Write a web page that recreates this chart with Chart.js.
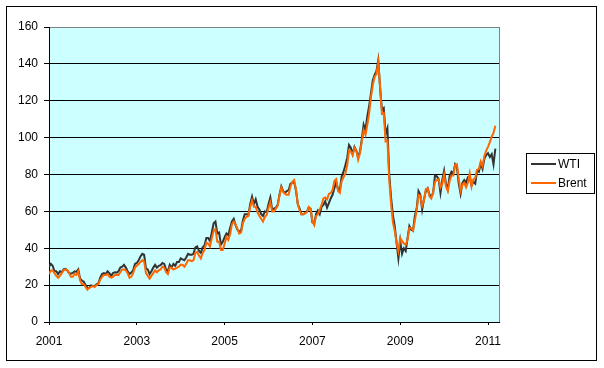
<!DOCTYPE html>
<html>
<head>
<meta charset="utf-8">
<script src="https://cdn.jsdelivr.net/npm/chart.js@4.4.1/dist/chart.umd.min.js"></script>
<style>
  body { margin: 0; background: #fff; }
  canvas { display: block; }
</style>
</head>
<body>
<canvas id="oil" width="604" height="368"></canvas>
<script>
// Oil spot prices, two readings per month (1st and 16th), Jan 2001 - Mar 2011
const wti = [
  30.0,31.5, 30.5,27.5, 27.5,26.0, 27.5,27.0, 28.5,28.8, 28.0,26.5, 26.2,26.6, 27.5,27.2, 28.5,23.5, 22.5,21.8, 20.0,18.5, 18.5,19.8, // 2001
  19.5,19.5, 20.5,21.0, 24.0,26.0, 26.5,26.0, 27.5,26.5, 25.0,26.5, 27.0,26.8, 27.5,29.5, 30.0,31.0, 29.5,27.5, 26.0,26.8, 28.0,31.5, // 2002
  32.0,33.5, 35.5,37.0, 36.5,29.0, 28.5,26.0, 27.5,29.5, 31.0,29.5, 30.5,30.8, 32.0,31.5, 28.5,27.5, 31.0,29.5, 31.5,30.5, 32.5,32.5, // 2003
  34.5,34.0, 33.5,35.0, 37.0,36.5, 36.5,37.0, 40.5,41.0, 38.5,37.5, 40.5,41.5, 45.5,45.5, 44.0,48.5, 53.5,54.5, 48.0,48.5, 42.0,43.5, // 2004
  46.0,48.0, 47.0,51.0, 54.5,56.0, 52.5,50.0, 49.0,49.5, 55.0,58.5, 58.5,58.0, 64.0,68.0, 64.0,66.5, 62.5,61.0, 58.5,57.5, 60.0,59.5, // 2005
  64.0,67.5, 61.0,61.5, 62.0,63.5, 69.0,73.5, 71.0,70.0, 71.0,71.5, 75.0,75.5, 76.0,71.5, 64.0,61.5, 58.5,58.5, 59.0,60.0, 62.0,61.5, // 2006
  54.0,53.5, 58.5,60.5, 58.5,62.5, 63.5,65.5, 62.0,64.5, 67.0,69.0, 72.5,76.0, 72.0,71.5, 79.0,81.5, 85.0,89.0, 96.0,94.5, 91.0,95.0, // 2007
  93.0,89.5, 92.5,99.0, 107.0,104.0, 111.5,117.0, 124.0,131.0, 134.0,136.0, 142.0,127.0, 115.0,116.0, 102.0,105.0, 80.0,67.5, 58.0,52.0, 43.0,34.5, // 2008
  44.0,37.0, 40.0,38.5, 45.5,52.0, 50.0,49.5, 57.5,61.5, 71.0,69.0, 61.0,66.5, 71.0,72.5, 69.0,68.0, 70.0,79.5, 79.0,77.5, 70.0,77.0, // 2009
  82.0,75.0, 72.0,79.0, 81.5,80.5, 85.5,84.0, 75.0,69.5, 75.5,77.0, 75.5,78.5, 78.5,74.0, 76.0,75.0, 82.0,81.5, 86.0,83.0, 88.5,90.5, // 2010
  91.5,89.5, 91.0,85.5, 94.0 // 2011
];
const brent = [
  26.0,28.0, 28.0,26.5, 25.0,24.0, 25.0,26.5, 28.0,28.5, 28.0,26.5, 24.5,24.5, 26.0,25.5, 27.5,22.5, 20.5,20.5, 19.0,17.5, 18.5,19.0, // 2001
  19.5,19.0, 20.0,20.5, 23.0,24.5, 25.5,25.5, 26.0,24.5, 24.0,24.5, 25.5,25.5, 25.5,27.0, 28.5,28.5, 28.0,26.5, 24.0,24.5, 26.5,29.5, // 2002
  30.5,31.5, 32.5,33.5, 33.0,26.5, 25.0,23.5, 25.0,26.5, 28.0,27.0, 28.0,28.5, 30.0,29.5, 27.0,26.0, 29.5,29.5, 28.5,29.0, 29.5,30.0, // 2003
  31.0,31.0, 30.0,31.5, 33.5,33.5, 33.0,33.5, 37.5,38.0, 36.0,34.5, 37.5,39.0, 43.0,42.5, 41.0,45.5, 49.5,50.5, 43.5,43.5, 39.0,39.0, // 2004
  42.5,46.0, 44.5,47.5, 53.0,54.5, 53.0,50.5, 48.0,48.5, 53.5,56.0, 57.0,57.5, 62.5,66.0, 62.5,62.5, 59.5,57.5, 56.0,54.5, 57.0,58.0, // 2005
  62.0,65.0, 60.0,60.0, 61.5,63.0, 68.5,73.0, 70.5,69.5, 69.0,69.0, 73.5,76.0, 77.0,72.0, 64.0,60.5, 58.5,58.5, 59.0,59.5, 62.5,61.5, // 2006
  54.5,52.5, 57.5,58.5, 61.0,63.5, 67.0,67.5, 66.5,69.5, 70.0,71.5, 76.5,77.5, 71.0,70.0, 76.5,78.5, 80.5,85.0, 93.0,92.5, 90.5,94.5, // 2007
  93.0,88.0, 91.5,98.0, 104.0,101.5, 107.0,113.0, 122.0,128.5, 133.0,134.5, 141.0,127.5, 113.0,113.5, 98.0,98.5, 77.0,64.0, 54.0,49.5, 43.0,38.5, // 2008
  45.5,44.0, 42.5,42.0, 44.5,51.0, 51.0,49.5, 55.0,60.5, 69.0,68.5, 63.0,66.0, 72.0,72.5, 68.0,67.0, 70.5,76.0, 77.0,77.5, 73.0,75.0, // 2009
  80.0,73.5, 71.0,76.5, 79.5,79.5, 85.0,85.5, 77.5,71.0, 74.5,75.5, 73.0,75.5, 80.5,73.5, 77.5,78.0, 82.5,83.0, 87.0,84.5, 90.0,93.0, // 2010
  95.0,97.5, 100.5,102.5, 106.5 // 2011
];
const yearTicks = [2001, 2003, 2005, 2007, 2009, 2011];
const seriesNames = ['WTI', 'Brent'];

const dates = wti.map((_, i) => 2001 + i / 24);
const pts = arr => arr.map((v, i) => ({ x: dates[i], y: v }));

Chart.defaults.font.family = "Arial, 'Liberation Sans', sans-serif";
Chart.defaults.font.size = 12;
Chart.defaults.color = '#000';

const frame = {
  id: 'frame',
  beforeDraw(chart) {
    const { ctx, chartArea: a } = chart;
    ctx.save();
    ctx.fillStyle = '#fff';
    ctx.fillRect(0, 0, chart.width, chart.height);
    ctx.strokeStyle = '#000';
    ctx.lineWidth = 1;
    ctx.strokeRect(6.5, 6.5, 590, 354);
    ctx.fillStyle = '#CCFFFF';
    ctx.fillRect(a.left, a.top, a.right - a.left, a.bottom - a.top);
    ctx.restore();
  },
  afterDraw(chart) {
    const { ctx, chartArea: a } = chart;
    ctx.save();
    ctx.strokeStyle = '#808080';
    ctx.lineWidth = 1;
    ctx.beginPath();
    ctx.moveTo(a.right + 0.5, a.top);
    ctx.lineTo(a.right + 0.5, a.bottom);
    ctx.stroke();

    // legend box
    ctx.strokeStyle = '#000';
    ctx.strokeRect(526.5, 153.5, 68, 40);
    ctx.font = "12px Arial, 'Liberation Sans', sans-serif";
    ctx.textBaseline = 'middle';
    ctx.fillStyle = '#000';
    chart.data.datasets.forEach((ds, i) => {
      const y = 164 + i * 19;
      ctx.strokeStyle = ds.borderColor;
      ctx.lineWidth = 2;
      ctx.beginPath();
      ctx.moveTo(531, y);
      ctx.lineTo(556, y);
      ctx.stroke();
      ctx.fillText(ds.label, 558, y + 1);
    });
    ctx.restore();
  }
};

new Chart(document.getElementById('oil'), {
  type: 'line',
  data: {
    datasets: [
      { label: seriesNames[0], data: pts(wti), borderColor: '#333333', borderWidth: 2, pointRadius: 0, tension: 0, order: 1 },
      { label: seriesNames[1], data: pts(brent), borderColor: '#FF6600', borderWidth: 2, pointRadius: 0, tension: 0, order: 0 }
    ]
  },
  options: {
    responsive: false,
    animation: false,
    devicePixelRatio: 1,
    layout: { padding: { left: 0, top: 27, right: 105, bottom: 0 } },
    plugins: { legend: { display: false }, tooltip: { enabled: false } },
    scales: {
      x: {
        type: 'linear',
        min: 2001,
        max: 2011.25,
        afterBuildTicks: s => { s.ticks = yearTicks.map(v => ({ value: v })); },
        afterFit: s => { s.height = 46; },
        ticks: { padding: 9, maxRotation: 0, autoSkip: false, callback: v => String(v) },
        grid: { drawOnChartArea: false, drawTicks: true, tickLength: 3, tickColor: '#000' },
        border: { color: '#000', width: 1 }
      },
      y: {
        min: 0,
        max: 160,
        afterFit: s => { s.width = 49; },
        ticks: { stepSize: 20, padding: 6 },
        grid: {
          color: c => (c.tick && c.tick.value === 160 ? '#808080' : '#000'),
          lineWidth: 1,
          drawTicks: true,
          tickLength: 5,
          tickColor: '#000'
        },
        border: { color: '#000', width: 1 }
      }
    }
  },
  plugins: [frame]
});
</script>
</body>
</html>
